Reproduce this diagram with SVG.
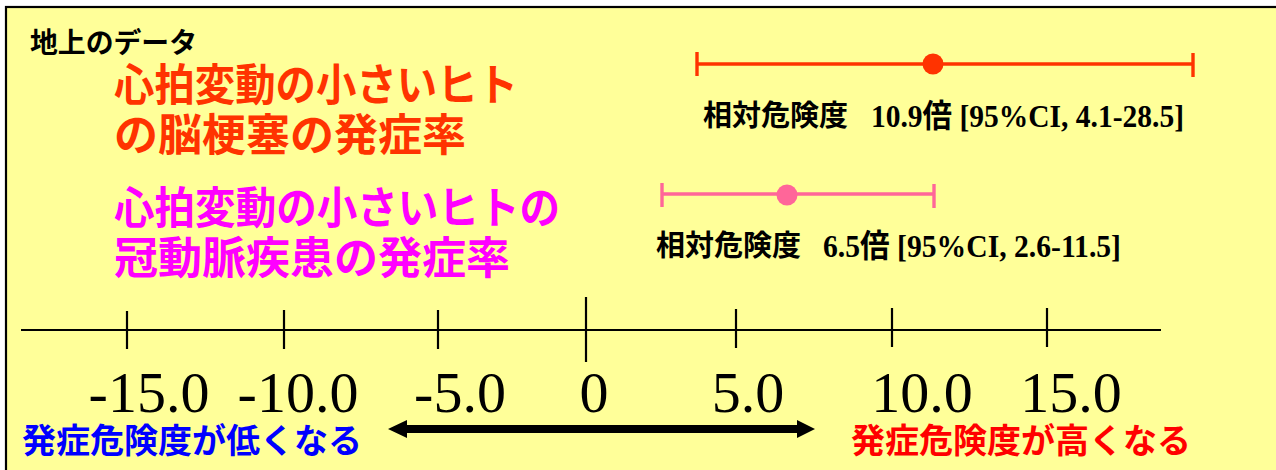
<svg xmlns="http://www.w3.org/2000/svg" width="1276" height="470" viewBox="0 0 1276 470">
<style>
.jp{font-family:"Noto Sans CJK JP","Noto Sans CJK SC",sans-serif;font-weight:bold}
.numb{font-family:"Liberation Serif","Noto Sans CJK JP",serif;font-weight:bold;font-size:32px;fill:#000}
.ax{stroke:#000;stroke-width:2.2;fill:none}
.tick{font-family:"Liberation Serif",serif;font-size:58px;fill:#000;text-anchor:middle}
</style>
<rect x="0" y="0" width="1276" height="470" fill="#fff"/>
<rect id="frame" x="6" y="7" width="1300" height="480" fill="#FFFF99" stroke="#000" stroke-width="2.2"/>
<g id="heading">
<text class="jp" x="30" y="53" font-size="28" fill="#000" textLength="167" lengthAdjust="spacingAndGlyphs">地上のデータ</text>
</g>
<g id="title-stroke">
<text class="jp" x="114" y="101" font-size="44" fill="#FF3300" textLength="404" lengthAdjust="spacingAndGlyphs">心拍変動の小さいヒト</text>
<text class="jp" x="114" y="151" font-size="44" fill="#FF3300">の脳梗塞の発症率</text>
</g>
<g id="title-chd">
<text class="jp" x="114" y="224" font-size="44" fill="#FF00FF" textLength="446" lengthAdjust="spacingAndGlyphs">心拍変動の小さいヒトの</text>
<text class="jp" x="114" y="274" font-size="44" fill="#FF00FF">冠動脈疾患の発症率</text>
</g>
<g id="bar-stroke" stroke="#FF3300" stroke-width="3.4" fill="#FF3300">
<line x1="697" y1="64" x2="1193" y2="64"/>
<line x1="697" y1="52" x2="697" y2="76"/>
<line x1="1193" y1="53" x2="1193" y2="77"/>
<circle cx="933" cy="64" r="10.5" stroke="none"/>
</g>
<g id="label-stroke">
<text class="jp" x="703" y="126" font-size="29" fill="#000">相対危険度</text>
<text class="numb" x="871" y="127" textLength="313" lengthAdjust="spacingAndGlyphs">10.9倍 [95%CI, 4.1-28.5]</text>
</g>
<g id="bar-chd" stroke="#FF6699" stroke-width="3.4" fill="#FF6699">
<line x1="662" y1="194" x2="934" y2="194"/>
<line x1="662" y1="183" x2="662" y2="207"/>
<line x1="934" y1="184" x2="934" y2="208"/>
<circle cx="787" cy="195" r="10.5" stroke="none"/>
</g>
<g id="label-chd">
<text class="jp" x="656" y="256" font-size="29" fill="#000">相対危険度</text>
<text class="numb" x="823" y="257" textLength="298" lengthAdjust="spacingAndGlyphs">6.5倍 [95%CI, 2.6-11.5]</text>
</g>
<g id="axis">
<line class="ax" x1="21" y1="330" x2="1161" y2="330"/>
<line class="ax" x1="127" y1="311" x2="127" y2="349"/>
<line class="ax" x1="284" y1="310" x2="284" y2="349"/>
<line class="ax" x1="438" y1="310" x2="438" y2="349"/>
<line class="ax" x1="586" y1="297" x2="586" y2="362"/>
<line class="ax" x1="736" y1="309" x2="736" y2="348"/>
<line class="ax" x1="892" y1="308" x2="892" y2="347"/>
<line class="ax" x1="1047" y1="308" x2="1047" y2="347"/>
</g>
<g id="tick-labels">
<text class="tick" x="149" y="412">-15.0</text>
<text class="tick" x="298" y="412">-10.0</text>
<text class="tick" x="460" y="412">-5.0</text>
<text class="tick" x="594" y="412">0</text>
<text class="tick" x="748" y="412">5.0</text>
<text class="tick" x="922" y="412">10.0</text>
<text class="tick" x="1071" y="412">15.0</text>
</g>
<g id="connectors">
<path d="M388,429 L407,420 L407,425 L797,425 L797,420 L815,429 L797,438 L797,433 L407,433 L407,438 Z" fill="#000"/>
</g>
<g id="low-risk">
<text class="jp" x="22" y="453" font-size="34" fill="#0000FF">発症危険度が低くなる</text>
</g>
<g id="high-risk">
<text class="jp" x="851" y="453" font-size="34" fill="#FF0000">発症危険度が高くなる</text>
</g>
</svg>
